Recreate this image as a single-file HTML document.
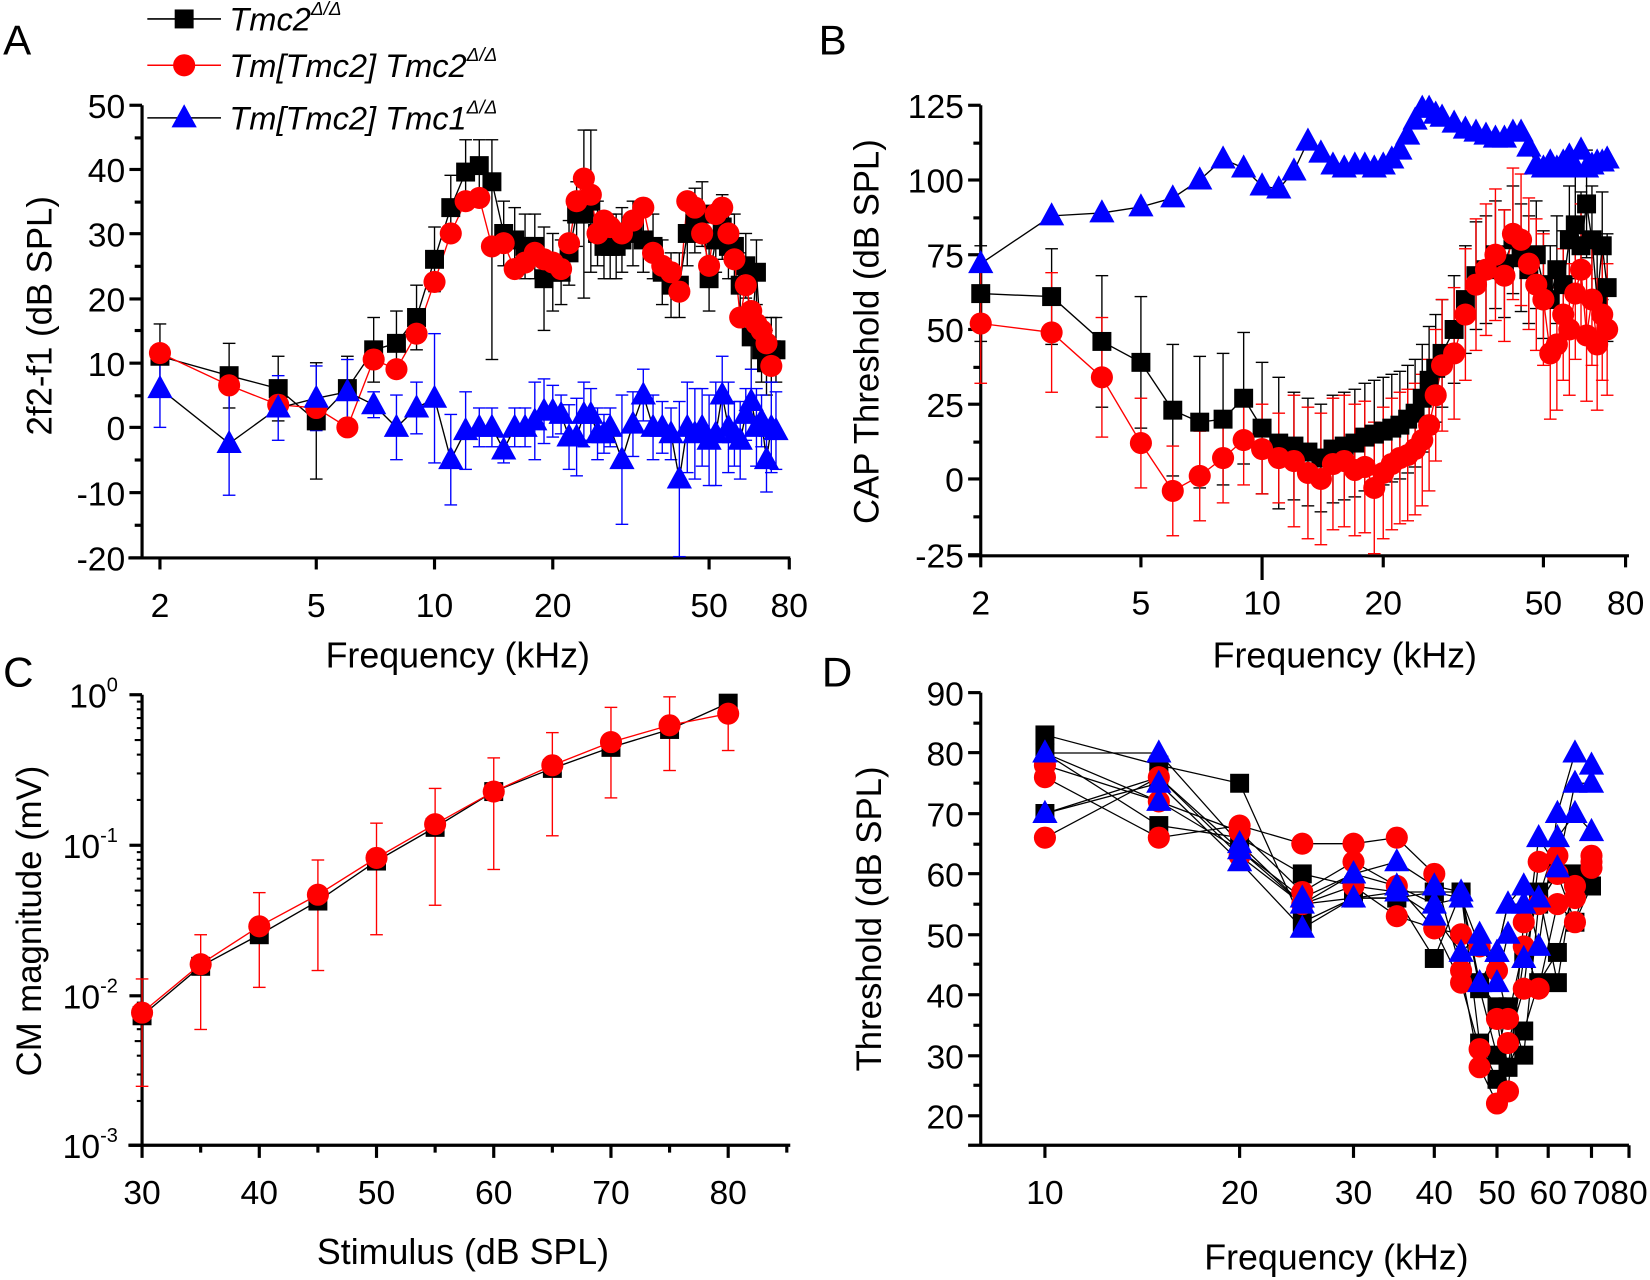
<!DOCTYPE html>
<html><head><meta charset="utf-8"><style>
html,body{margin:0;padding:0;background:#fff;}
svg{display:block;}
text{font-family:"Liberation Sans",Arial,sans-serif;fill:#000;}
</style></head><body>
<svg id="s" width="1650" height="1280" viewBox="0 0 1568 1216" preserveAspectRatio="none" xmlns="http://www.w3.org/2000/svg"></svg>
<script>
var S=document.getElementById('s'),out='';
function L(x1,y1,x2,y2,c,w){out+='<line x1="'+x1+'" y1="'+y1+'" x2="'+x2+'" y2="'+y2+'" stroke="'+c+'" stroke-width="'+(w||1)+'"/>';}
function T(x,y,t,sz,anc,extra){out+='<text x="'+x+'" y="'+y+'" font-size="'+sz+'" text-anchor="'+(anc||'start')+'" '+(extra||'')+'>'+t+'</text>';}
function M(type,x,y,c){
 if(type=='s')out+='<rect x="'+(x-9)+'" y="'+(y-9)+'" width="18" height="18" fill="'+c+'"/>';
 else if(type=='c')out+='<circle cx="'+x+'" cy="'+y+'" r="10.5" fill="'+c+'"/>';
 else out+='<polygon points="'+x+','+(y-13)+' '+(x-12)+','+(y+9)+' '+(x+12)+','+(y+9)+'" fill="'+c+'"/>';
}
function poly(pts,c,w){out+='<polyline fill="none" stroke="'+c+'" stroke-width="'+(w||1.3)+'" points="'+pts.map(function(p){return p[0]+','+p[1]}).join(' ')+'"/>';}
function eb(x,y1,y2,c){L(x,y1,x,y2,c,1.3);L(x-6,y1,x+6,y1,c,1.3);L(x-6,y2,x+6,y2,c,1.3);}
var TS=32;
function yaxis(x,ytop,ybot,ticks,minor){L(x,ytop,x,ybot,'#000',3);ticks.forEach(function(t){L(x-12,t[0],x,t[0],'#000',3);T(x-16,t[0]+12,t[1],TS,'end');});minor.forEach(function(y){L(x-7,y,x,y,'#000',3);});}
// ---------- Panel A ----------
var ax=function(f){return 152+Math.log10(f/2)*373.3;}, ay=function(v){return 406-v*6.14;};
yaxis(135,100,531,[[100,'50'],[161,'40'],[222,'30'],[284,'20'],[345,'10'],[406,'0'],[468,'-10'],[530,'-20']],[131,192,253,314,376,437,499]);
L(122,530,751,530,'#000',3);
[[2,'2'],[5,'5'],[10,'10'],[20,'20'],[50,'50'],[80,'80']].forEach(function(t){var x=ax(t[0]);L(x,530,x,541,'#000',3);T(x,586,t[1],TS,'middle');});
T(38,300,'2f2-f1  (dB SPL)',33,'middle','transform="rotate(-90 38 300)" dy="11"');
T(435,634,'Frequency (kHz)',34,'middle');
T(3,52,'A',40);
var A_b=[[2,11],[3,8],[4,6],[5,1],[6,6],[7,12],[8,13],[9,17],[10,26],[11,34],[12,39.5],[13,40.5],[14,38],[15,30],[16,29],[17,28],[18,28],[19,23],[20,24],[21,24],[22,27],[23,33],[24,33],[25,35],[26,30],[27,28],[28,28],[29,28],[30,29],[32,30],[34,29],[36,28],[38,24],[40,22],[42,22],[44,30],[46,32],[48,33],[50,23],[52,29],[54,31],[56,28],[58,28],[60,22],[62,25],[64,14],[66,24],[68,12],[70,10],[72,12],[74,12]];
var A_r=[[2,11.5],[3,6.5],[4,3.5],[5,3],[6,0],[7,10.5],[8,9],[9,14.5],[10,22.5],[11,30],[12,35],[13,35.5],[14,28],[15,28.5],[16,24.5],[17,25.5],[18,27],[19,26],[20,25.5],[21,24.5],[22,28.5],[23,35],[24,38.5],[25,36],[26,30],[27,32],[28,31],[30,30],[32,32],[34,34],[36,27],[38,25],[40,24],[42,21],[44,35],[46,34],[48,30],[50,25],[52,33],[54,34],[56,30],[58,26],[60,17],[62,22],[64,18],[66,16],[68,15],[70,13],[72,9.5]];
var A_u=[[2,6],[3,-2.5],[4,3],[5,4.5],[6,5.5],[7,3.5],[8,0],[9,3],[10,4.5],[11,-5],[12,-0.5],[13,0],[14,0],[15,-3.5],[16,0],[17,0],[18,1],[19,2.5],[20,2.5],[21,2],[22,-1.5],[23,-1.5],[24,2],[25,2],[26,-1],[27,-1],[28,0],[30,-5],[32,0.5],[34,5],[36,0],[38,0],[40,-1],[42,-8],[44,0],[46,-1],[48,0],[50,-2],[52,-1],[54,5],[56,0],[58,-1],[60,-2],[62,2],[64,4],[66,0],[68,1],[70,-5],[72,0],[74,-0.5]];
var ebA={5:9,13:4,19:8,20:6,24:13,25:11,42:5};
A_b.forEach(function(p){if(p[0]==14){eb(ax(14),ay(44.5),ay(10.5),'#000');return;}var e=ebA[p[0]]||5;eb(ax(p[0]),ay(p[1]+e),ay(p[1]-e),'#000');});
A_u.forEach(function(p,i){var e=[6,8,5,5,5,2,5,4,10,7,6,3,3,2,3,3,6,5,4,3,5,6,5,4,4,3,3,10,5,4,5,4,4,12,7,7,6,7,8,6,7,5,6,4,5,6,4,5,7,6,5][i]||5;eb(ax(p[0]),ay(p[1]+e),ay(p[1]-e),'#00f');});
poly(A_b.map(function(p){return[ax(p[0]),ay(p[1])]}),'#000');
poly(A_r.map(function(p){return[ax(p[0]),ay(p[1])]}),'#f00');
poly(A_u.map(function(p){return[ax(p[0]),ay(p[1])]}),'#000');
A_b.forEach(function(p){M('s',ax(p[0]),ay(p[1]),'#000');});
A_r.forEach(function(p){M('c',ax(p[0]),ay(p[1]),'#f00');});
A_u.forEach(function(p){M('t',ax(p[0]),ay(p[1]),'#00f');});
// legend
[[18,'#000','s','Tmc2'],[62,'#f00','c','Tm[Tmc2] Tmc2'],[112,'#000','t','Tm[Tmc2] Tmc1']].forEach(function(r,i){
 L(140,r[0],210,r[0],i==2?'#000':r[1],1.5);M(r[2],175,r[0],['#000','#f00','#00f'][i]);
 out+='<text x="218" y="'+(r[0]+11)+'" font-size="31" font-style="italic">'+r[3]+'<tspan font-size="18" dy="-15">Δ/Δ</tspan></text>';});
// ---------- Panel B ----------
var bx=function(f){return 932+Math.log10(f/2)*382.5;}, by=function(v){return 455-v*2.84;};
yaxis(932,100,529,[[100,'125'],[171,'100'],[242,'75'],[313,'50'],[384,'25'],[455,'0'],[527,'-25']],[136,207,278,349,420,491]);
L(920,528,1548,528,'#000',3);
[[2,'2'],[5,'5'],[10,'10'],[20,'20'],[50,'50'],[80,'80']].forEach(function(t){var x=bx(t[0]);L(x,528,x,539+(t[0]==10?12:0),'#000',3);T(x,584,t[1],TS,'middle');});
T(824,315,'CAP Threshold (dB SPL)',33,'middle','transform="rotate(-90 824 315)" dy="11"');
T(1278,634,'Frequency (kHz)',34,'middle');
T(778,52,'B',40);
var B_u=[[2,72],[3,88],[4,89],[5,91],[6,94],[7,100],[8,107],[9,104],[10,98],[11,97],[12,103],[13,113],[14,109],[15,105],[16,104],[17,105],[18,105],[19,104],[20,105],[21,107],[22,110],[23,115],[24,120],[25,124],[26,124],[27,122],[28,121],[30,119],[32,117],[34,116],[36,115],[38,114],[40,114],[42,116],[44,116],[46,111],[48,105],[50,104],[52,106],[54,104],[56,106],[58,108],[60,104],[62,110],[64,104],[66,105],[68,106],[70,106],[72,107]];
var B_b=[[2,62],[3,61],[4,46],[5,39],[6,23],[7,19],[8,20],[9,27],[10,17],[11,12],[12,11],[13,9],[14,7],[15,10],[16,11],[17,12],[18,14],[19,15],[20,16],[21,17],[22,18],[23,20],[24,22],[25,27],[26,33],[27,37],[28,42],[30,50],[32,60],[34,68],[36,70],[38,75],[40,72],[42,80],[44,74],[46,70],[48,75],[50,65],[52,60],[54,70],[56,65],[58,80],[60,85],[62,78],[64,92],[66,80],[68,60],[70,78],[72,64]];
var B_r=[[2,52],[3,49],[4,34],[5,12],[6,-4],[7,1],[8,7],[9,13],[10,10],[11,7],[12,6],[13,2],[14,0],[15,5],[16,6],[17,3],[18,4],[19,-3],[20,2],[21,5],[22,7],[23,8],[24,10],[25,13],[26,18],[27,28],[28,38],[30,42],[32,55],[34,65],[36,70],[38,75],[40,68],[42,82],[44,80],[46,72],[48,65],[50,60],[52,42],[54,45],[56,55],[58,50],[60,62],[62,70],[64,48],[66,60],[68,45],[70,55],[72,50]];
B_b.forEach(function(p,i){var e=i<2?16:(i<10?22:18);eb(bx(p[0]),by(p[1]+e),by(p[1]-e),'#000');});
B_r.forEach(function(p,i){var e=i<3?20:(i<10?15:22);eb(bx(p[0]),by(p[1]+e),by(p[1]-e),'#f00');});
poly(B_b.map(function(p){return[bx(p[0]),by(p[1])]}),'#000');
poly(B_r.map(function(p){return[bx(p[0]),by(p[1])]}),'#f00');
poly(B_u.map(function(p){return[bx(p[0]),by(p[1])]}),'#000');
B_b.forEach(function(p){M('s',bx(p[0]),by(p[1]),'#000');});
B_r.forEach(function(p){M('c',bx(p[0]),by(p[1]),'#f00');});
B_u.forEach(function(p){M('t',bx(p[0]),by(p[1]),'#00f');});
// ---------- Panel C ----------
var cx=function(v){return 135+(v-30)*11.14;};
L(135,660,135,1089,'#000',3);
[[660,'0'],[803,'-1'],[946,'-2'],[1088,'-3']].forEach(function(t){L(123,t[0],135,t[0],'#000',3);out+='<text x="112" y="'+(t[0]+12)+'" font-size="'+TS+'" text-anchor="end">10<tspan font-size="19" dy="-15">'+t[1]+'</tspan></text>';});
for(var d=0;d<3;d++)for(var k=2;k<10;k++){var y=660+d*143+(1-Math.log10(k))*143;L(k==5?128:130,y,135,y,'#000',2);}
L(122,1088,751,1088,'#000',3);
for(var v=30;v<=85;v+=5){var x=cx(v);L(x,1088,x,v%10==0?1100:1095,'#000',3);if(v%10==0&&v<=80)T(x,1144,''+v,TS,'middle');}
T(28,875,'CM magnitude (mV)',33,'middle','transform="rotate(-90 28 875)" dy="11"');
T(440,1201,'Stimulus (dB SPL)',34,'middle');
T(3,652,'C',40);
var Cb=[965,918,888,856,818,786,752,730,710,693,668],Cr=[962,916,880,850,815,783,752,727,705,689,678];
var Ce=[[930,1032],[888,978],[848,938],[817,922],[782,888],[749,860],[720,826],[696,794],[672,758],[662,732],[663,713]];
Ce.forEach(function(e,i){eb(cx(30+5*i),e[0],e[1],'#f00');});
poly(Cb.map(function(y,i){return[cx(30+5*i),y]}),'#000');
Cb.forEach(function(y,i){M('s',cx(30+5*i),y,'#000');});
poly(Cr.map(function(y,i){return[cx(30+5*i),y]}),'#f00');
Cr.forEach(function(y,i){M('c',cx(30+5*i),y,'#f00');});
// ---------- Panel D ----------
var dx=function(f){return 993+Math.log10(f/10)*614.6;}, dy=function(v){return 658+(90-v)*5.74;};
yaxis(932,658,1089,[[658,'90'],[715,'80'],[773,'70'],[830,'60'],[888,'50'],[945,'40'],[1003,'30'],[1060,'20']],[687,744,802,859,916,974,1031]);
L(920,1088,1548,1088,'#000',3);
[[10,'10'],[20,'20'],[30,'30'],[40,'40'],[50,'50'],[60,'60'],[70,'70'],[80,'80']].forEach(function(t){var x=dx(t[0]);L(x,1088,x,1100,'#000',3);T(x,1144,t[1],TS,'middle');});
T(826,873,'Threshold (dB SPL)',33,'middle','transform="rotate(-90 826 873)" dy="11"');
T(1270,1206,'Frequency (kHz)',34,'middle');
T(781,652,'D',40);
var F=[10,15,20,25,30,35,40,44,47,50,52,55,58,62,66,70];
var D=[
 ['s','#000',[83,78,75,52,56,56,46,57,32,26,28,34,42,47,58,58]],
 ['s','#000',[80,68,66,60,58,57,57,57,41,30,38,30,55,60,52,58]],
 ['s','#000',[70,76,64,55,56,56,57,56,42,38,28,46,57,42,60,58]],
 ['c','#f00',[76,66,68,65,65,66,60,44,28,22,32,41,62,63,56,63]],
 ['c','#f00',[78,72,67,57,62,58,51,42,31,36,24,52,55,60,58,61]],
 ['c','#f00',[66,76,63,55,58,53,51,50,48,44,36,48,41,55,52,62]],
 ['t','#00f',[80,80,65,55,60,62,58,57,42,47,55,58,48,70,80,78]],
 ['t','#00f',[70,75,62,51,56,57,53,47,50,42,50,46,66,61,75,75]],
 ['t','#00f',[80,72,64,56,60,58,55,56,48,47,55,55,56,66,70,67]]];
D.forEach(function(s){poly(F.map(function(f,i){return[dx(f),dy(s[2][i])]}),'#000',1.2);});
D.forEach(function(s){F.forEach(function(f,i){M(s[0],dx(f),dy(s[2][i]),s[1]);});});
S.innerHTML=out;
</script>
</body></html>
